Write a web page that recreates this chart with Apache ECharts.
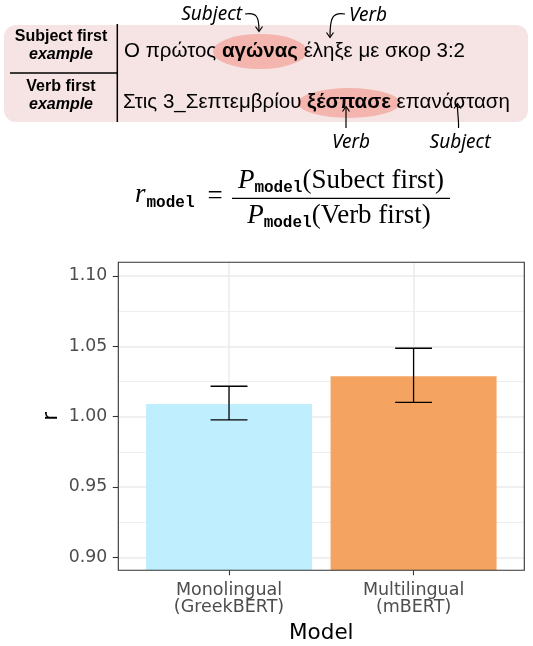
<!DOCTYPE html>
<html>
<head>
<meta charset="utf-8">
<script src="https://cdn.jsdelivr.net/npm/echarts@6/dist/echarts.min.js"></script>
<style>
html,body{margin:0;padding:0;background:#fff;}
#chart{width:533px;height:646px;}
</style>
</head>
<body>
<div id="chart"></div>
<script>
// ---------------- data ----------------
const categories = ['Monolingual\n(GreekBERT)', 'Multilingual\n(mBERT)'];
const categoryPositions = [1, 2];
const rValues = [1.009, 1.0287];
const errLow = [0.9977, 1.0102];
const errHigh = [1.0216, 1.0486];
const barColors = ['#BFEFFF', '#F4A460'];
const yTicks = [0.90, 0.95, 1.00, 1.05, 1.10];
const yMinorTicks = [0.925, 0.975, 1.025, 1.075];
const xAxisTitle = 'Model';
const yAxisTitle = 'r';

const rowLabels = [['Subject first', 'example'], ['Verb first', 'example']];
const sentence1 = ['Ο πρώτος ', 'αγώνας', ' έληξε με σκορ 3:2'];
const sentence2 = ['Στις 3_Σεπτεμβρίου ', 'ξέσπασε', ' επανάσταση'];
const notes = ['Subject', 'Verb', 'Verb', 'Subject'];

// ---------------- layout helpers ----------------
const ctx = document.createElement('canvas').getContext('2d');
function tw(text, font) { ctx.font = font; return ctx.measureText(text).width; }

const G = { left: 118.3, right: 524.3, top: 262.3, bottom: 570.3 };

const graphics = [];
function txt(x, y, text, font, align, fill) {
  graphics.push({ type: 'text', x: x, y: y, z: 20,
    style: { text: text, font: font, fill: fill || '#000', align: align || 'left', textAlign: align || 'left',
             verticalAlign: 'middle', textVerticalAlign: 'middle' } });
}
function line(x1, y1, x2, y2, w) {
  graphics.push({ type: 'line', z: 20, shape: { x1, y1, x2, y2 }, style: { stroke: '#000', lineWidth: w || 1.3 } });
}
function arrowHead(x, y, dir) {
  const pts = dir === 'down' ? [[x - 3.5, y - 5], [x, y], [x + 3.5, y - 5]] : [[x - 3.5, y + 5], [x, y], [x + 3.5, y + 5]];
  graphics.push({ type: 'polyline', z: 20, shape: { points: pts }, style: { stroke: '#000', fill: null, lineWidth: 1.2 } });
}

// top annotation box
graphics.push({ type: 'rect', z: 10, shape: { x: 4, y: 25, width: 524, height: 97, r: 12 }, style: { fill: '#F6E3E3' } });
line(117.3, 24, 117.3, 122, 1.5);
line(10, 73, 117.3, 73, 1.5);
const bFont = 'bold 16px "Liberation Sans"';
const biFont = 'italic bold 16px "Liberation Sans"';
txt(61, 37, rowLabels[0][0], bFont, 'center');
txt(61, 55, rowLabels[0][1], biFont, 'center');
txt(61, 87, rowLabels[1][0], bFont, 'center');
txt(61, 105, rowLabels[1][1], biFont, 'center');

const sFont = '20.5px "Liberation Sans"';
const sbFont = 'bold 20.5px "Liberation Sans"';
function sentence(parts, x0, y, ry) {
  const w0 = tw(parts[0], sFont), w1 = tw(parts[1], sbFont);
  const cx = x0 + w0 + w1 / 2;
  const rx = w1 / 2 + 9;
  graphics.push({ type: 'circle', z: 12, x: cx, y: y + 0.5, scaleX: rx / ry, scaleY: 1,
    shape: { cx: 0, cy: 0, r: ry }, style: { fill: '#F3B5AD' } });
  txt(x0, y, parts[0], sFont);
  txt(x0 + w0, y, parts[1], sbFont);
  txt(x0 + w0 + w1, y, parts[2], sFont);
}
sentence(sentence1, 124, 51, 17.5);
sentence(sentence2, 123, 102.5, 15);

// handwritten-style notes with arrows
const hFont = 'italic 19px "Noto Sans"';
txt(211.7, 15, notes[0], hFont, 'center');
graphics.push({ type: 'bezierCurve', z: 20, shape: { x1: 245, y1: 14, x2: 259, y2: 31, cpx1: 257, cpy1: 12, cpx2: 259, cpy2: 17 }, style: { stroke: '#000', fill: null, lineWidth: 1.2 } });
arrowHead(259, 31.5, 'down');
txt(368, 15.5, notes[1], hFont, 'center');
graphics.push({ type: 'bezierCurve', z: 20, shape: { x1: 345, y1: 14, x2: 330, y2: 37, cpx1: 332, cpy1: 12, cpx2: 330, cpy2: 18 }, style: { stroke: '#000', fill: null, lineWidth: 1.2 } });
arrowHead(330, 37.5, 'down');
txt(351, 143, notes[2], hFont, 'center');
line(346, 128, 346, 107, 1.2);
arrowHead(346, 106.5, 'up');
txt(460, 143, notes[3], hFont, 'center');
graphics.push({ type: 'bezierCurve', z: 20, shape: { x1: 458.5, y1: 128, x2: 457.5, y2: 104, cpx1: 459, cpy1: 120, cpx2: 457, cpy2: 110 }, style: { stroke: '#000', fill: null, lineWidth: 1.2 } });
arrowHead(457.5, 103.5, 'up');

// formula
const mainF = '27px "Liberation Serif"';
const itF = 'italic 27px "Liberation Serif"';
const subF = 'bold 16px "Liberation Mono"';
function seq(parts, cx) {
  let total = 0;
  parts.forEach(p => total += tw(p[0], p[1]));
  let x = cx - total / 2;
  parts.forEach(p => { txt(x, p[2], p[0], p[1]); x += tw(p[0], p[1]); });
}
// left side
txt(135, 195, 'r', itF);
txt(135 + tw('r', itF) + 1, 202.5, 'model', subF);
txt(207.5, 197, '=', mainF);
line(232, 198.3, 450, 198.3, 1.2);
seq([['P', itF, 181], ['model', subF, 187.5], ['(Subect first)', mainF, 181]], 341);
seq([['P', itF, 216], ['model', subF, 222.5], ['(Verb first)', mainF, 216]], 339);

// panel border overlay
graphics.push({ type: 'rect', z: 50, shape: { x: G.left, y: G.top, width: G.right - G.left, height: G.bottom - G.top },
  style: { fill: null, stroke: '#333333', lineWidth: 1.1 } });

// ---------------- chart ----------------
const chart = echarts.init(document.getElementById('chart'), null, { renderer: 'canvas' });
const labelFont = 'DejaVu Sans';
const option = {
  animation: false,
  backgroundColor: '#ffffff',
  grid: { left: G.left, right: 533 - G.right, top: G.top, bottom: 646 - G.bottom, containLabel: false },
  xAxis: [{
    type: 'value', min: 0.4, max: 2.6,
    axisLine: { show: false },
    axisTick: { show: true, length: 5, customValues: categoryPositions, lineStyle: { color: '#333333', width: 1.1 } },
    axisLabel: { show: true, customValues: categoryPositions, margin: 12, color: '#4D4D4D', fontFamily: labelFont, fontSize: 17.5, lineHeight: 17,
      formatter: v => categories[categoryPositions.indexOf(Math.round(v))] || '' },
    splitLine: { show: true, lineStyle: { color: '#EBEBEB', width: 1.5 } },
    name: xAxisTitle, nameLocation: 'middle', nameGap: 52,
    nameTextStyle: { color: '#000', fontFamily: labelFont, fontSize: 21.5 }
  }],
  yAxis: [{
    type: 'value', min: 0.8908, max: 1.1097,
    axisLine: { show: false },
    axisTick: { show: true, length: 5.5, customValues: yTicks, lineStyle: { color: '#333333', width: 1.1 } },
    axisLabel: { show: true, customValues: yTicks, margin: 11, color: '#4D4D4D', fontFamily: labelFont, fontSize: 17.3,
      formatter: v => v.toFixed(2) },
    splitLine: { show: true, lineStyle: { color: '#EBEBEB', width: 1.5 } },
    name: yAxisTitle, nameLocation: 'middle', nameGap: 56, nameRotate: 90, nameMoveOverlap: false,
    nameTextStyle: { color: '#000', fontFamily: labelFont, fontSize: 21.5 }
  }, {
    type: 'value', min: 0.8908, max: 1.1097, position: 'left',
    axisLine: { show: false },
    axisTick: { show: false, customValues: yMinorTicks },
    axisLabel: { show: false },
    splitLine: { show: true, lineStyle: { color: '#EBEBEB', width: 0.8 } }
  }],
  series: [{
    type: 'bar', xAxisIndex: 0, yAxisIndex: 0, z: 2,
    barWidth: 166,
    data: rValues.map((v, i) => ({ value: [categoryPositions[i], v], itemStyle: { color: barColors[i] } }))
  }, {
    type: 'custom', xAxisIndex: 0, yAxisIndex: 0, z: 3,
    encode: { x: 0, y: [1, 2] },
    data: rValues.map((v, i) => [categoryPositions[i], errLow[i], errHigh[i]]),
    renderItem: function (params, api) {
      const x = api.value(0), lo = api.value(1), hi = api.value(2);
      const pHi = api.coord([x, hi]), pLo = api.coord([x, lo]);
      const half = api.size([0.1, 0])[0];
      const st = { stroke: '#000', lineWidth: 1.3 };
      return { type: 'group', children: [
        { type: 'line', shape: { x1: pHi[0], y1: pHi[1], x2: pLo[0], y2: pLo[1] }, style: st },
        { type: 'line', shape: { x1: pHi[0] - half, y1: pHi[1], x2: pHi[0] + half, y2: pHi[1] }, style: st },
        { type: 'line', shape: { x1: pLo[0] - half, y1: pLo[1], x2: pLo[0] + half, y2: pLo[1] }, style: st }
      ] };
    }
  }],
  graphic: { elements: graphics }
};
chart.setOption(option);
</script>
</body>
</html>
